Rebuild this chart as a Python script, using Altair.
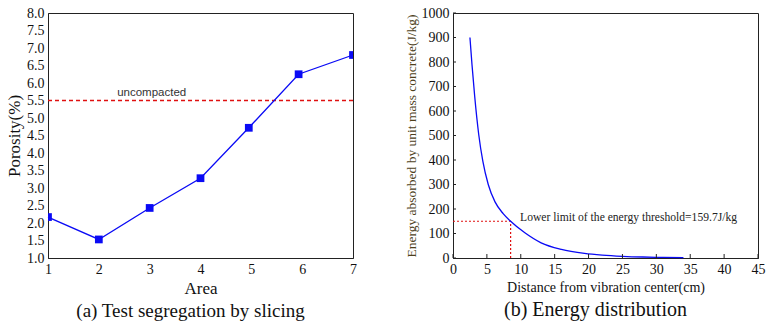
import altair as alt
import pandas as pd

# ---- panel (a) data ----
area = [1, 2, 3, 4, 4.95, 5.93, 7]
porosity = [2.17, 1.53, 2.43, 3.28, 4.72, 6.25, 6.80]
uncompacted_level = [5.5]
uncompacted_label = ["uncompacted"]
uncompacted_label_x = [2.36]
porosity_ticks = [1.0, 1.5, 2.0, 2.5, 3.0, 3.5, 4.0, 4.5, 5.0, 5.5, 6.0, 6.5, 7.0, 7.5, 8.0]
area_ticks = [1, 2, 3, 4, 5, 6, 7]

# ---- panel (b) data ----
distance = [2.5, 2.8, 3.2, 3.8, 4.4, 5.2, 6.2, 7.4, 8.5, 10.6, 13.0, 16.0, 19.4, 22.0, 25.0, 28.0, 31.0, 34.0]
energy = [900, 790, 660, 503, 395, 300, 229, 181, 150, 103, 62, 35, 19, 12, 7, 4, 2.5, 1.5]
threshold_x = [8.5]
threshold_y = [150]
threshold_label = ["Lower limit of the energy threshold=159.7J/kg"]
threshold_label_pos = [9.9, 165]
dist_ticks = [0, 5, 10, 15, 20, 25, 30, 35, 40, 45]
energy_ticks = [0, 100, 200, 300, 400, 500, 600, 700, 800, 900, 1000]

SERIF = "Liberation Serif"
BLUE = "#0a0af5"
RED = "#e01010"

W1, H1 = 305, 245
W2, H2 = 305, 245


def axis(title, values, fmt, title_size, title_color="#111", label_pad=3, title_pad=4):
    return alt.Axis(values=values, format=fmt, title=title, grid=False,
                    labelFont=SERIF, labelFontSize=14, labelColor="#111",
                    labelOverlap=False, labelFlush=False,
                    titleFont=SERIF, titleFontSize=title_size, titleFontWeight="normal",
                    titleColor=title_color, ticks=False, labelPadding=label_pad,
                    titlePadding=title_pad, domainColor="#222")


# ================= panel (a) =================
xa = alt.X("area:Q", scale=alt.Scale(domain=[1, 7], nice=False, zero=False),
           axis=axis("Area", area_ticks, "d", 17, label_pad=4, title_pad=4))
ya = alt.Y("porosity:Q", scale=alt.Scale(domain=[1, 8], nice=False, zero=False),
           axis=axis("Porosity(%)", porosity_ticks, ".1f", 17, label_pad=4, title_pad=3))

df_a = pd.DataFrame({"area": area, "porosity": porosity})
line_a = alt.Chart(df_a).mark_line(color=BLUE, strokeWidth=1.3).encode(x=xa, y=ya)
pts_a = alt.Chart(df_a).mark_point(shape="square", filled=True, color=BLUE, size=60,
                                   opacity=1, clip=True).encode(x=xa, y=ya)
df_u = pd.DataFrame({"porosity": uncompacted_level})
rule_a = alt.Chart(df_u).mark_rule(color=RED, strokeDash=[4, 3], strokeWidth=1.4).encode(y=ya)
df_ut = pd.DataFrame({"area": uncompacted_label_x, "porosity": uncompacted_level, "t": uncompacted_label})
text_a = alt.Chart(df_ut).mark_text(align="left", baseline="bottom", dy=-3, fontSize=11.5,
                                    font="Liberation Sans", color="#333").encode(
    x=xa, y=ya, text="t:N")

panel_a = alt.layer(rule_a, line_a, pts_a, text_a).properties(
    width=W1, height=H1,
    title=alt.TitleParams("(a) Test segregation by slicing", orient="bottom", anchor="middle",
                          font=SERIF, fontSize=19, fontWeight="normal", color="#111",
                          offset=6, dx=-10))

# ================= panel (b) =================
xb = alt.X("d:Q", scale=alt.Scale(domain=[0, 45], nice=False, zero=False),
           axis=axis("Distance from vibration center(cm)", dist_ticks, "d", 14,
                     label_pad=4, title_pad=4))
yb = alt.Y("e:Q", scale=alt.Scale(domain=[0, 1000], nice=False, zero=False),
           axis=axis("Energy absorbed by unit mass concrete(J/kg)", energy_ticks, "d", 13.5,
                     title_color="#4e3f1c", label_pad=4, title_pad=3))

df_b = pd.DataFrame({"d": distance, "e": energy})
line_b = alt.Chart(df_b).mark_line(color=BLUE, strokeWidth=1.3, interpolate="monotone").encode(x=xb, y=yb)

df_h = pd.DataFrame({"d": [0], "d2": threshold_x, "e": threshold_y})
h_rule = alt.Chart(df_h).mark_rule(color=RED, strokeDash=[2, 2], strokeWidth=1.2).encode(
    x=xb, x2="d2:Q", y=yb)
df_v = pd.DataFrame({"d": threshold_x, "e": [0], "e2": threshold_y})
v_rule = alt.Chart(df_v).mark_rule(color=RED, strokeDash=[2, 2], strokeWidth=1.2).encode(
    x=xb, y=yb, y2="e2:Q")
df_tt = pd.DataFrame({"d": [threshold_label_pos[0]], "e": [threshold_label_pos[1]], "t": threshold_label})
text_b = alt.Chart(df_tt).mark_text(align="left", baseline="middle", fontSize=11.6,
                                    font=SERIF, color="#222").encode(x=xb, y=yb, text="t:N")

df_xt = pd.DataFrame({"d": dist_ticks})
df_yt = pd.DataFrame({"e": energy_ticks})
xticks_b = alt.Chart(df_xt).mark_rule(color="#222", strokeWidth=1).encode(
    x=xb, y=alt.value(H2), y2=alt.value(H2 - 4))
yticks_b = alt.Chart(df_yt).mark_rule(color="#222", strokeWidth=1).encode(
    y=yb, x=alt.value(0), x2=alt.value(3))

panel_b = alt.layer(h_rule, v_rule, line_b, text_b, xticks_b, yticks_b).properties(
    width=W2, height=H2,
    title=alt.TitleParams("(b) Energy distribution", orient="bottom", anchor="middle",
                          font=SERIF, fontSize=20, fontWeight="normal", color="#111",
                          offset=6, dx=-10))

chart = alt.hconcat(panel_a, panel_b, spacing=46).properties(
    padding={"left": 5, "top": 5, "right": 5, "bottom": 5}
).configure(background="white", view=alt.ViewConfig(stroke="#222", strokeWidth=1),
            axis=alt.AxisConfig(labelOverlap=False))

chart.save("out.html", embed_options={"renderer": "svg", "actions": False})
